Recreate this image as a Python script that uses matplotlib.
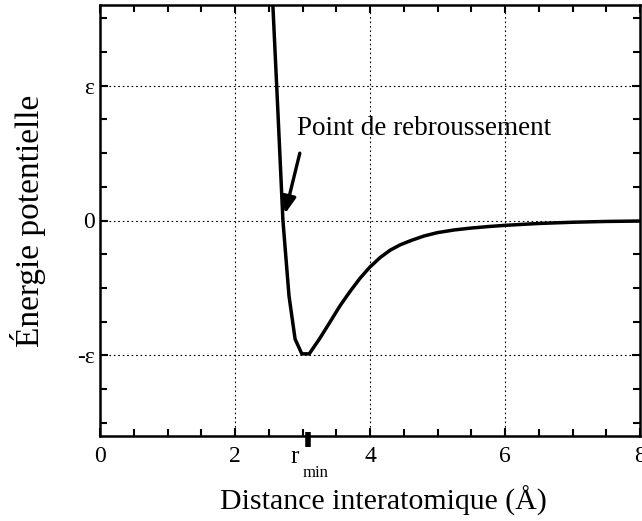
import numpy as np
import matplotlib
matplotlib.use("Agg")
import matplotlib.pyplot as plt
from matplotlib.ticker import MultipleLocator

plt.rcParams['font.family'] = ['Liberation Serif', 'DejaVu Serif']

# points (r in Angstrom, E in units of epsilon)
r = [2.50, 2.56, 2.64, 2.71, 2.80, 2.89, 2.99, 3.10, 3.25, 3.40, 3.56, 3.70,
     3.85, 4.00, 4.15, 4.30, 4.45, 4.60, 4.80, 5.00, 5.25, 5.50, 5.75, 6.00,
     6.50, 7.00, 7.50, 8.00]
E = [2.20, 1.61, 0.76, 0.00, -0.56, -0.88, -0.99, -0.99, -0.88, -0.76, -0.63, -0.53,
     -0.43, -0.345, -0.275, -0.22, -0.18, -0.15, -0.115, -0.09, -0.07, -0.056, -0.045, -0.036,
     -0.022, -0.013, -0.007, -0.004]

r_min = 3.08
xticks = [0, 2, 4, 6, 8]
yticks = [-1, 0, 1]
ylabels = ['-ε', '0', 'ε']

fig = plt.figure(figsize=(6.42, 5.21), dpi=100)
ax = fig.add_axes([100/642, 85/521, 540/642, 431/521])

ax.plot(r, E, color='black', lw=2.5, solid_joinstyle='miter')

ax.set_xlim(0, 8)
ax.set_ylim(-1.6, 1.6)

ax.set_xticks(xticks)
ax.set_yticks(yticks)
ax.set_yticklabels(ylabels)
ax.xaxis.set_minor_locator(MultipleLocator(0.5))
ax.yaxis.set_minor_locator(MultipleLocator(0.25))
ax.tick_params(which='both', direction='in', top=True, right=True,
               width=1.5, labelsize=17)
ax.tick_params(which='major', length=6)
ax.tick_params(axis='x', which='major', pad=7)
ax.tick_params(axis='y', which='major', pad=4)
ax.tick_params(which='minor', length=5)
for s in ax.spines.values():
    s.set_linewidth(1.8)

for x in [2, 4, 6]:
    ax.axvline(x, color='black', lw=0.8, ls=(0, (1.5, 2.5)), zorder=0)
for y in yticks:
    ax.axhline(y, color='black', lw=0.8, ls=(0, (1.5, 2.5)), zorder=0)

# r_min marker on the bottom axis
xt = ax.get_xaxis_transform()
ax.plot([r_min, r_min], [-0.025, 0.01], color='black', lw=4,
        transform=xt, clip_on=False, solid_capstyle='butt')
ax.text(2.89, -0.048, 'r', transform=xt, ha='center', va='center', fontsize=18)
ax.text(3.19, -0.086, 'min', transform=xt, ha='center', va='center', fontsize=12)

ax.annotate('', xy=(2.74, 0.05), xytext=(2.96, 0.50),
            arrowprops=dict(arrowstyle='-|>,head_length=1.0,head_width=0.4',
                            color='black', lw=2.4, shrinkA=0, shrinkB=0))
ax.text(2.92, 0.68, 'Point de rebroussement', fontsize=19.5, va='center', ha='left')

ax.set_xlabel('Distance interatomique (Å)', fontsize=21.5)
ax.xaxis.set_label_coords(0.524, -0.115)
ax.set_ylabel('Énergie potentielle', fontsize=24)
ax.yaxis.set_label_coords(-0.1, 0.5)

fig.savefig('out.png', dpi=100)
